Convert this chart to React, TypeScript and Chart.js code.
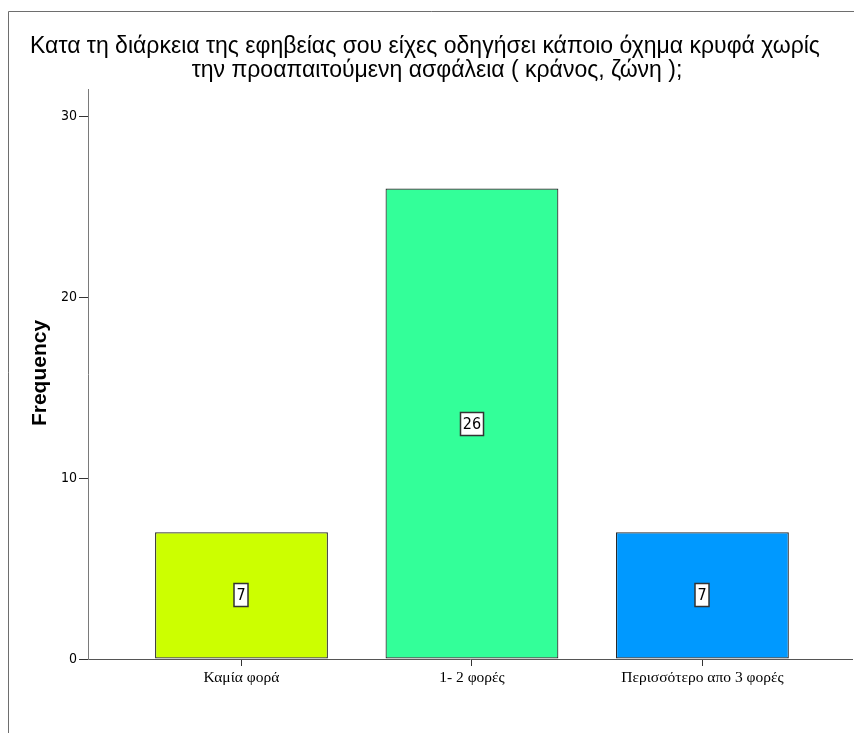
import React, { useEffect, useRef } from 'react';
import { Chart, registerables } from 'chart.js';

Chart.register(...registerables);

const titleLines = [
  'Κατα τη διάρκεια της εφηβείας σου είχες οδηγήσει κάποιο όχημα κρυφά χωρίς',
  'την προαπαιτούμενη ασφάλεια ( κράνος, ζώνη );',
];
const categories = ['Καμία φορά', '1- 2 φορές', 'Περισσότερο απο 3 φορές'];
const frequencies = [7, 26, 7];
const barColors = ['#CCFF00', '#33FF99', '#0099FF'];
const yAxisTitle = 'Frequency';
const yTickStep = 10;
const yMax = 31.5;
const xMin = -0.666;
const xMax = 2.649;

const decorPlugin = {
  id: 'decor',
  beforeDraw(chart: any) {
    const ctx = chart.ctx;
    ctx.save();
    ctx.fillStyle = '#ffffff';
    ctx.fillRect(0, 0, chart.width, chart.height);
    ctx.strokeStyle = '#6e6e6e';
    ctx.lineWidth = 1;
    ctx.beginPath();
    ctx.moveTo(8.5, chart.height);
    ctx.lineTo(8.5, 11.5);
    ctx.lineTo(chart.width, 11.5);
    ctx.stroke();
    ctx.restore();
  },
  afterDraw(chart: any) {
    const ctx = chart.ctx;
    ctx.save();
    ctx.fillStyle = '#000000';
    ctx.font = '23px "Liberation Sans", Arial, sans-serif';
    ctx.textAlign = 'center';
    ctx.textBaseline = 'middle';
    ctx.fillText(titleLines[0], 425, 47);
    ctx.fillText(titleLines[1], 437, 71);

    ctx.translate(40, 373);
    ctx.rotate(-Math.PI / 2);
    ctx.font = 'bold 21px "Liberation Sans", Arial, sans-serif';
    ctx.fillText(yAxisTitle, 0, 0);
    ctx.restore();
  },
  afterDatasetsDraw(chart: any) {
    const ctx = chart.ctx;
    const meta = chart.getDatasetMeta(0);
    ctx.save();
    ctx.font = '16px "DejaVu Sans Condensed", "DejaVu Sans", sans-serif';
    ctx.textAlign = 'center';
    ctx.textBaseline = 'middle';
    meta.data.forEach((bar: any, i: number) => {
      const text = String(frequencies[i]);
      const cx = Math.round(bar.x);
      const cy = Math.round((bar.y + bar.base) / 2);
      const w = Math.round(ctx.measureText(text).width) + 5;
      const h = 23;
      ctx.fillStyle = '#ffffff';
      ctx.fillRect(cx - w / 2, cy - h / 2, w, h);
      ctx.strokeStyle = '#333333';
      ctx.lineWidth = 1.5;
      ctx.strokeRect(cx - w / 2, cy - h / 2, w, h);
      ctx.fillStyle = '#000000';
      ctx.fillText(text, cx, cy + 1);
    });
    ctx.restore();
  },
};

export default function App() {
  const ref = useRef<HTMLCanvasElement>(null);
  useEffect(() => {
    if (!ref.current) return;
    const chart = new Chart(ref.current, {
      type: 'bar',
      data: {
        datasets: [
          {
            data: categories.map((_, i) => ({ x: i, y: frequencies[i] })),
            backgroundColor: barColors,
            borderColor: '#2a2a2a',
            borderWidth: 1.2,
            borderSkipped: false,
            barPercentage: 0.75,
            categoryPercentage: 1,
          },
        ],
      },
      options: {
        animation: false,
        responsive: false,
        devicePixelRatio: 1,
        layout: { padding: { top: 89, bottom: 34, left: 0, right: 2 } },
        plugins: {
          legend: { display: false },
          title: { display: false },
          tooltip: { enabled: false },
        },
        scales: {
          x: {
            type: 'linear',
            min: xMin,
            max: xMax,
            offset: false,
            afterFit: (s: any) => {
              s.height = 40;
            },
            ticks: {
              stepSize: 1,
              includeBounds: false,
              autoSkip: false,
              maxRotation: 0,
              padding: 3,
              color: '#000000',
              font: { family: '"Liberation Serif", "Times New Roman", serif', size: 15.5 },
              callback: (v: any) => categories[v] ?? '',
            },
            grid: {
              offset: false,
              drawOnChartArea: false,
              drawTicks: true,
              tickLength: 7,
              tickColor: '#333333',
            },
            border: { color: '#555555', width: 1 },
          },
          y: {
            min: 0,
            max: yMax,
            afterFit: (s: any) => {
              s.width = 88;
            },
            ticks: {
              stepSize: yTickStep,
              includeBounds: false,
              padding: 2,
              color: '#000000',
              font: { family: '"DejaVu Sans Condensed", "DejaVu Sans", sans-serif', size: 14 },
            },
            grid: {
              drawOnChartArea: false,
              drawTicks: true,
              tickLength: 9,
              tickColor: '#333333',
            },
            border: { color: '#7a7a7a', width: 1 },
          },
        },
      },
      plugins: [decorPlugin],
    });
    return () => chart.destroy();
  }, []);
  return (
    <div style={{ position: 'fixed', left: 0, top: 0, width: '854px', height: '733px' }}>
      <canvas ref={ref} width={854} height={733} style={{ display: 'block' }} />
    </div>
  );
}
